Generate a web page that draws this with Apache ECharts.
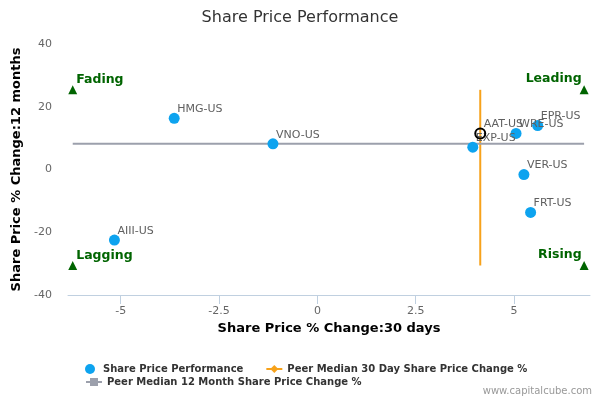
<!DOCTYPE html>
<html>
<head>
<meta charset="utf-8">
<title>Share Price Performance</title>
<script src="https://cdn.jsdelivr.net/npm/echarts@6/dist/echarts.min.js"></script>
<style>
  html, body { margin: 0; padding: 0; background: #fff; }
  #chart { width: 600px; height: 400px; }
</style>
</head>
<body>
<div id="chart"></div>
<script>
// peers: 30 day change (x) and 12 month change (y)
const tickers = ['HMG-US', 'VNO-US', 'AIII-US', 'WRE-US', 'EPR-US', 'EXP-US', 'VER-US', 'FRT-US'];
const change30d = [-3.64, -1.13, -5.16, 5.05, 5.60, 3.95, 5.25, 5.42];
const change12m = [16.3, 8.2, -22.5, 11.5, 14.0, 7.1, -1.6, -13.7];

// the company itself (hollow black marker)
const focusTicker = 'AAT-US';
const focus30d = 4.14;
const focus12m = 11.5;

// peer medians
const median30d = 4.14;
const median12m = 8.2;

// quadrant corners
const quadrantNames = ['Fading', 'Leading', 'Lagging', 'Rising'];
const quadrantX = [-6.22, 6.78, -6.22, 6.78];
const quadrantY = [25.4, 25.4, -30.6, -30.6];

const xTicks = [-5, -2.5, 0, 2.5, 5];

const FONT = 'DejaVu Sans';
const GREEN = '#006400';

const peerData = tickers.map((t, i) => ({ name: t, value: [change30d[i], change12m[i]] }));
const quadData = quadrantNames.map((q, i) => {
  const left = quadrantX[i] < 0;
  return {
    name: q,
    value: [quadrantX[i], quadrantY[i]],
    label: left
      ? { position: 'right', distance: 0, offset: [-1, -10] }
      : { position: 'left', distance: 0, offset: [2, -11] }
  };
});

const pointLabel = {
  show: true,
  formatter: '{b}',
  position: 'right',
  distance: 0,
  offset: [-2.5, -9],
  color: '#606060',
  fontFamily: FONT,
  fontSize: 11
};

const legendText = { fontFamily: FONT, fontSize: 10, fontWeight: 'bold', color: '#333' };

const chart = echarts.init(document.getElementById('chart'));
chart.setOption({
  animation: false,
  title: {
    text: 'Share Price Performance',
    left: 'center',
    top: 5,
    textStyle: { fontFamily: FONT, fontSize: 16, fontWeight: 'normal', color: '#333' }
  },
  legend: [
    {
      left: 85,
      top: 364,
      padding: 0,
      itemWidth: 16,
      itemHeight: 10,
      itemGap: 22,
      data: ['Share Price Performance', 'Peer Median 30 Day Share Price Change %'],
      textStyle: legendText
    },
    {
      left: 85,
      top: 377,
      padding: 0,
      itemWidth: 16,
      itemHeight: 10,
      data: ['Peer Median 12 Month Share Price Change %'],
      textStyle: legendText
    }
  ],
  grid: { left: 68, right: 10, top: 44, bottom: 105 },
  xAxis: {
    type: 'value',
    min: -6.34,
    max: 6.93,
    name: 'Share Price % Change:30 days',
    nameLocation: 'middle',
    nameGap: 27,
    nameTextStyle: { fontFamily: FONT, fontSize: 13, fontWeight: 'bold', color: '#000' },
    axisLine: { show: true, onZero: false, lineStyle: { color: '#C0D0E0' } },
    axisTick: { show: true, length: 9, customValues: xTicks, lineStyle: { color: '#C0D0E0' } },
    axisLabel: { customValues: xTicks, margin: 11, fontFamily: FONT, fontSize: 11, color: '#666' },
    splitLine: { show: false }
  },
  yAxis: {
    type: 'value',
    min: -40,
    max: 40,
    interval: 20,
    name: 'Share Price % Change:12 months',
    nameLocation: 'middle',
    nameGap: 37,
    nameTextStyle: { fontFamily: FONT, fontSize: 13, fontWeight: 'bold', color: '#000' },
    axisLine: { show: false },
    axisTick: { show: false },
    axisLabel: { margin: 16, fontFamily: FONT, fontSize: 11, color: '#666' },
    splitLine: { show: false }
  },
  series: [
    {
      name: 'Peer Median 30 Day Share Price Change %',
      type: 'line',
      symbol: 'diamond',
      showSymbol: false,
      color: '#F7A21B',
      lineStyle: { width: 2, color: '#F7A21B' },
      data: [[median30d, quadrantY[0]], [median30d, quadrantY[2]]],
      z: 2
    },
    {
      name: 'Peer Median 12 Month Share Price Change %',
      type: 'line',
      symbol: 'rect',
      showSymbol: false,
      color: '#9CA0AC',
      lineStyle: { width: 2, color: '#9CA0AC' },
      data: [[quadrantX[0], median12m], [quadrantX[1], median12m]],
      z: 2
    },
    {
      name: 'Share Price Performance',
      type: 'scatter',
      symbol: 'circle',
      symbolSize: 11,
      itemStyle: { color: '#0DA3EF', opacity: 1 },
      label: pointLabel,
      data: peerData,
      z: 3
    },
    {
      name: focusTicker,
      type: 'scatter',
      symbol: 'circle',
      symbolSize: 10,
      itemStyle: { color: 'rgba(255,255,255,0)', borderColor: '#000', borderWidth: 2, opacity: 1 },
      label: pointLabel,
      data: [{ name: focusTicker, value: [focus30d, focus12m] }],
      z: 4
    },
    {
      name: 'quadrants',
      type: 'scatter',
      symbol: 'triangle',
      symbolSize: 9,
      itemStyle: { color: GREEN, opacity: 1 },
      label: {
        show: true,
        formatter: '{b}',
        color: GREEN,
        fontFamily: FONT,
        fontSize: 12.5,
        fontWeight: 'bold'
      },
      data: quadData,
      z: 3
    }
  ],
  graphic: [
    {
      type: 'text',
      right: 8,
      top: 386,
      style: { text: 'www.capitalcube.com', fill: '#999', font: '10px "DejaVu Sans"' }
    }
  ]
});
</script>
</body>
</html>
